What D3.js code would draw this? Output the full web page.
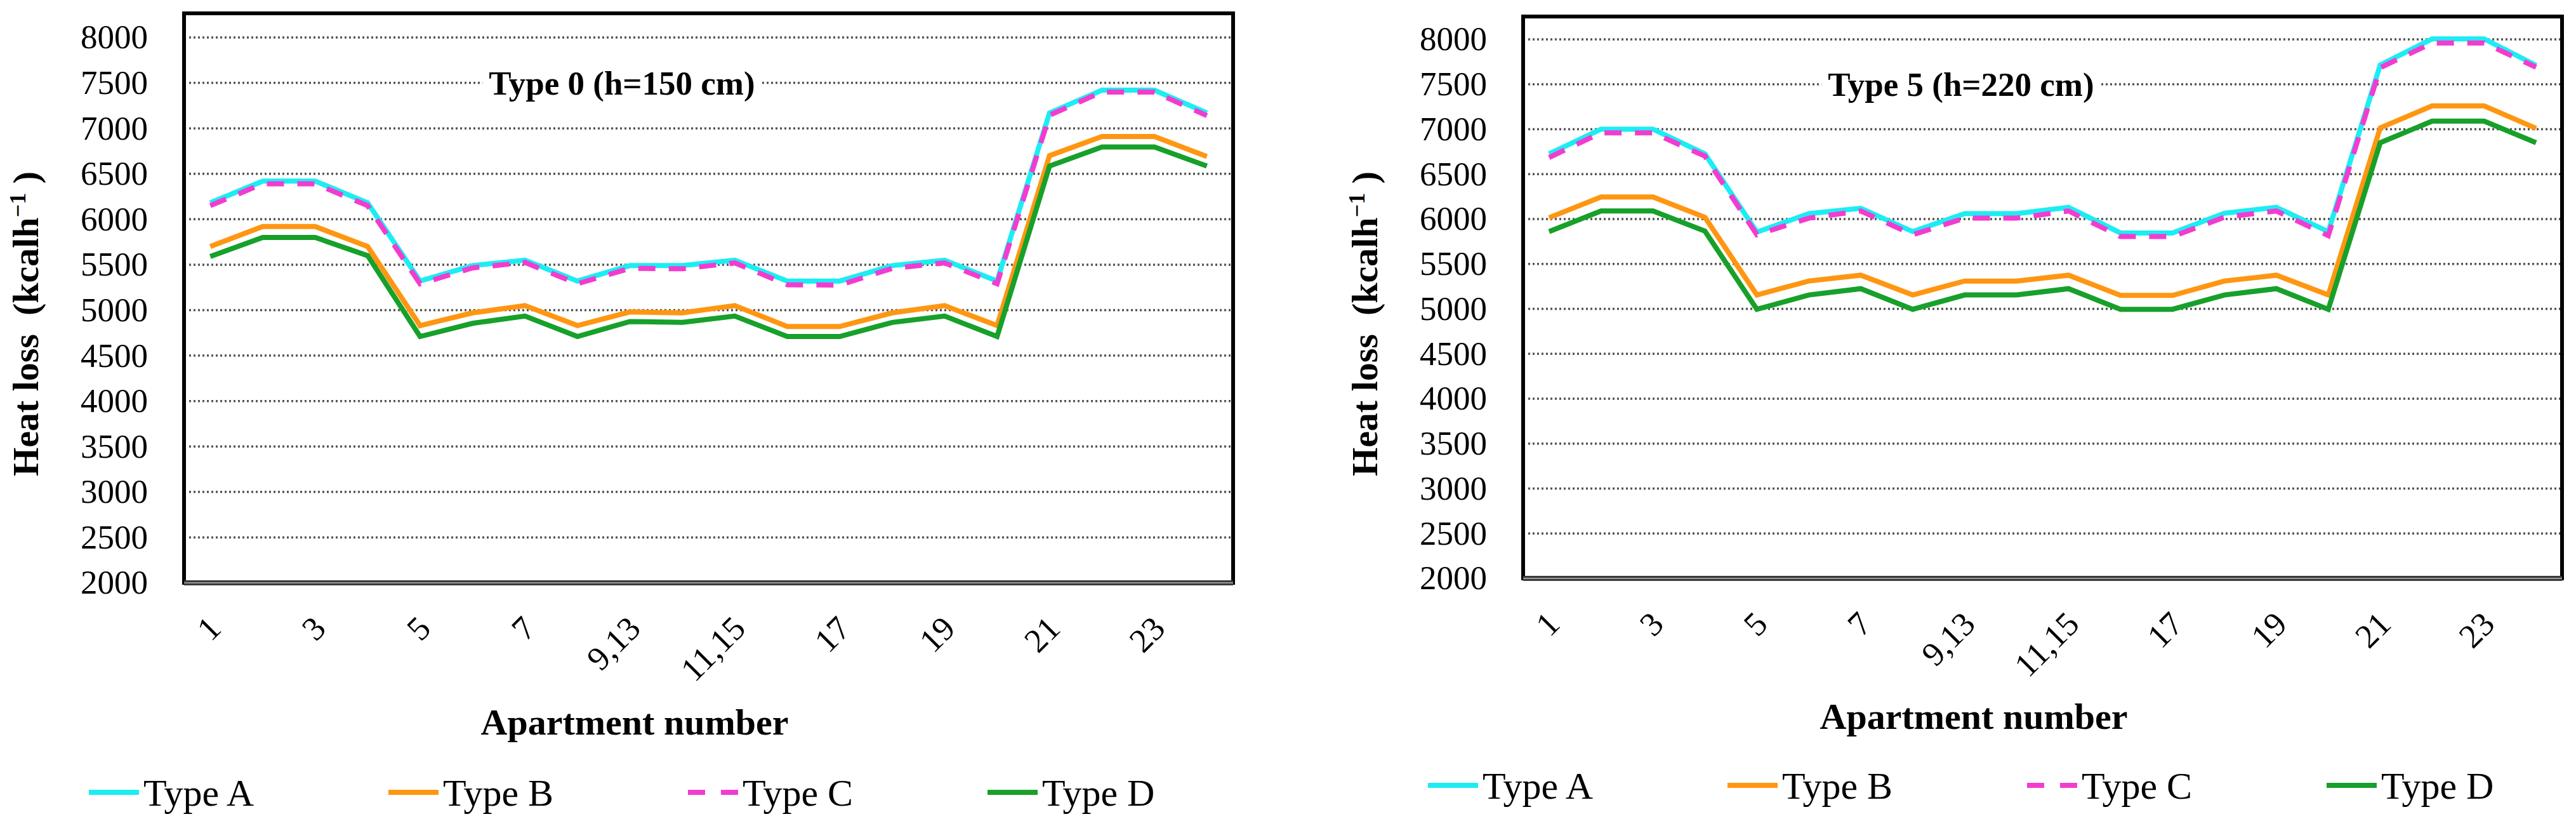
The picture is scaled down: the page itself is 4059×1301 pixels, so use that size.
<!DOCTYPE html>
<html>
<head>
<meta charset="utf-8">
<script src="https://cdn.jsdelivr.net/npm/d3@7"></script>
<style>
  body { margin: 0; background: #fff; }
  text { font-family: "Liberation Serif", "Times New Roman", serif; fill: #000; }
</style>
</head>
<body>
<div id="chart"></div>
<script>
// apartment numbers along the x axis
const categories = ["1", "2", "3", "4", "5", "6", "7", "8", "9,13", "10,14",
  "11,15", "12,16", "17", "18", "19", "20", "21", "22", "23", "24"];
const tickLabels = categories.filter((d, i) => i % 2 === 0);
const yTicks = [2000, 2500, 3000, 3500, 4000, 4500, 5000, 5500, 6000, 6500, 7000, 7500, 8000];
const seriesNames = ["Type A", "Type B", "Type C", "Type D"];

// Type 0 (h=150 cm)
const type0A = [6180, 6420, 6420, 6180, 5320, 5490, 5550, 5320, 5490, 5490, 5550, 5320, 5320, 5490, 5550, 5320, 7170, 7420, 7420, 7170];
const type0B = [5700, 5920, 5920, 5700, 4830, 4970, 5050, 4830, 4980, 4970, 5050, 4820, 4820, 4970, 5050, 4830, 6700, 6910, 6910, 6690];
const type0C = [6150, 6390, 6390, 6150, 5290, 5465, 5525, 5290, 5460, 5455, 5520, 5280, 5275, 5460, 5520, 5290, 7145, 7400, 7400, 7140];
const type0D = [5590, 5800, 5800, 5600, 4710, 4855, 4935, 4710, 4875, 4865, 4935, 4710, 4710, 4865, 4935, 4710, 6585, 6795, 6795, 6585];

// Type 5 (h=220 cm)
const type5A = [6725, 7000, 7000, 6725, 5855, 6060, 6120, 5860, 6060, 6060, 6130, 5845, 5845, 6065, 6130, 5860, 7715, 8005, 8005, 7710];
const type5B = [6015, 6245, 6245, 6020, 5155, 5310, 5375, 5155, 5310, 5310, 5375, 5150, 5150, 5310, 5375, 5155, 7015, 7260, 7260, 7010];
const type5C = [6685, 6960, 6960, 6700, 5825, 6010, 6090, 5825, 6010, 6010, 6090, 5805, 5805, 6020, 6090, 5815, 7685, 7960, 7960, 7690];
const type5D = [5860, 6090, 6090, 5865, 4995, 5155, 5225, 4995, 5155, 5155, 5225, 4995, 4995, 5155, 5225, 4995, 6850, 7090, 7090, 6850];

const width = 4059;
const height = 1301;
const serif = "Liberation Serif, Times New Roman, serif";

const colors = ["#1cedf3", "#ff9612", "#f23cd0", "#17a02a"];
const dashes = [null, null, "27,21", null];

const svg = d3
  .select("#chart")
  .append("svg")
  .attr("viewBox", [0, 0, width, height])
  .attr("width", width)
  .attr("height", height);

const panels = [
  { title: "Type 0 (h=150 cm)", series: [type0A, type0B, type0C, type0D],
    left: 290, right: 1943, frameTop: 21, top: 59, bottom: 918, xTitleY: 1157, legendY: 1248 },
  { title: "Type 5 (h=220 cm)", series: [type5A, type5B, type5C, type5D],
    left: 2400, right: 4037, frameTop: 26, top: 62, bottom: 911, xTitleY: 1148, legendY: 1237 }
];

panels.forEach(drawPanel);

function drawPanel(p) {
  const x = d3.scalePoint().domain(categories).range([p.left, p.right]).padding(0.5);
  const y = d3.scaleLinear().domain([2000, 8000]).range([p.bottom, p.top]);
  const g = svg.append("g");

  // dotted gridlines
  g.selectAll(".grid")
    .data(yTicks.slice(1))
    .join("line")
    .attr("class", "grid")
    .attr("x1", p.left + 8)
    .attr("x2", p.right - 3)
    .attr("y1", d => y(d))
    .attr("y2", d => y(d))
    .attr("stroke", "#555")
    .attr("stroke-width", 3.5)
    .attr("stroke-dasharray", "3,4");

  // frame
  g.append("rect")
    .attr("x", p.left)
    .attr("y", p.frameTop)
    .attr("width", p.right - p.left)
    .attr("height", p.bottom - p.frameTop)
    .attr("fill", "none")
    .attr("stroke", "#000")
    .attr("stroke-width", 6);
  g.append("line")
    .attr("x1", p.left).attr("x2", p.right)
    .attr("y1", p.bottom).attr("y2", p.bottom)
    .attr("stroke", "#3a3a3a").attr("stroke-width", 8);
  g.append("line")
    .attr("x1", p.left).attr("x2", p.right)
    .attr("y1", p.bottom).attr("y2", p.bottom)
    .attr("stroke", "#9a9a9a").attr("stroke-width", 2);

  // y axis labels
  const yAxis = g.append("g")
    .attr("transform", `translate(${p.left - 57},0)`)
    .call(d3.axisLeft(y).tickValues(yTicks).tickFormat(d3.format("d")).tickSize(0).tickPadding(0));
  yAxis.select(".domain").remove();
  yAxis.selectAll("text")
    .style("font-family", serif)
    .style("font-size", "53px")
    .attr("fill", "#000");

  // x axis labels
  const xAxis = g.append("g")
    .attr("transform", `translate(0,${p.bottom})`)
    .call(d3.axisBottom(x).tickValues(tickLabels).tickSize(0));
  xAxis.select(".domain").remove();
  xAxis.selectAll("text")
    .style("font-family", serif)
    .style("font-size", "53px")
    .attr("fill", "#000")
    .attr("text-anchor", "end")
    .attr("y", 0)
    .attr("dy", "0.35em")
    .attr("transform", "translate(6,62) rotate(-45)");

  // series
  const line = d3.line()
    .x((d, i) => x(categories[i]))
    .y(d => y(d));

  g.selectAll(".series")
    .data(p.series)
    .join("path")
    .attr("class", "series")
    .attr("d", d => line(d))
    .attr("fill", "none")
    .attr("stroke", (d, i) => colors[i])
    .attr("stroke-width", 8)
    .attr("stroke-linejoin", "miter")
    .attr("stroke-dasharray", (d, i) => dashes[i]);

  // panel title on a white box
  const titleG = g.append("g");
  const title = titleG.append("text")
    .attr("x", p.left + 690)
    .attr("y", y(7500) + 18)
    .attr("text-anchor", "middle")
    .attr("font-size", 53)
    .attr("font-weight", "bold")
    .text(p.title);
  const bb = title.node().getBBox();
  titleG.insert("rect", "text")
    .attr("x", bb.x - 10)
    .attr("y", bb.y)
    .attr("width", bb.width + 20)
    .attr("height", bb.height)
    .attr("fill", "#fff");

  // y axis title
  const yTitle = g.append("text")
    .attr("transform", `translate(${p.left - 230},510) rotate(-90)`)
    .attr("text-anchor", "middle")
    .attr("font-size", 58)
    .attr("font-weight", "bold")
    .style("white-space", "pre");
  yTitle.append("tspan").text("Heat loss  (kcalh");
  yTitle.append("tspan").attr("font-size", 36).attr("dy", -20).text("\u22121");
  yTitle.append("tspan").attr("dy", 20).text(" )");

  // x axis title
  g.append("text")
    .attr("x", p.left + 710)
    .attr("y", p.xTitleY)
    .attr("text-anchor", "middle")
    .attr("font-size", 58)
    .attr("font-weight", "bold")
    .text("Apartment number");

  // legend
  const legend = g.selectAll(".legend")
    .data(seriesNames)
    .join("g")
    .attr("class", "legend")
    .attr("transform", (d, i) => `translate(${p.left - 150 + i * 472},${p.legendY})`);

  legend.append("line")
    .attr("x1", 0)
    .attr("x2", 79)
    .attr("stroke", (d, i) => colors[i])
    .attr("stroke-width", 8)
    .attr("stroke-dasharray", (d, i) => dashes[i] ? "27,25" : null);

  legend.append("text")
    .attr("x", 86)
    .attr("dy", "0.35em")
    .attr("font-size", 60)
    .text(d => d);
}
</script>
</body>
</html>
